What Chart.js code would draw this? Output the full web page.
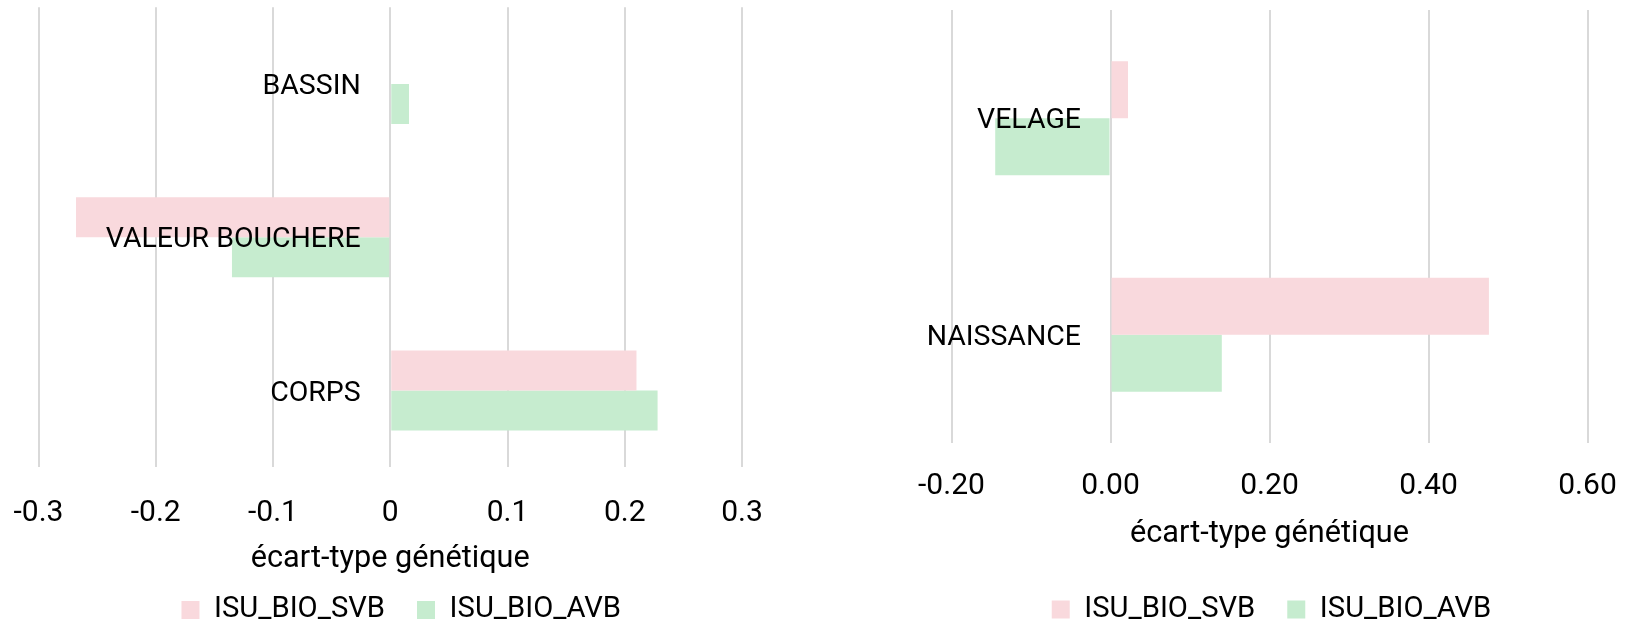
<!DOCTYPE html>
<html><head><meta charset="utf-8">
<script src="https://cdn.jsdelivr.net/npm/chart.js@4/dist/chart.umd.min.js"></script>
<style>
html,body{margin:0;padding:0;background:#fff;overflow:hidden;width:1627px;height:627px}
#wrap{position:relative;width:1627px;height:627px;overflow:hidden}
canvas{position:absolute;top:0}
</style></head><body>
<div id="wrap">
<canvas id="c1" width="813" height="640" style="left:0;width:813px;height:640px"></canvas>
<canvas id="c2" width="814" height="640" style="left:813px;width:814px;height:640px"></canvas>
</div>
<script>
// ---------- data ----------
const seriesNames = ['ISU_BIO_SVB', 'ISU_BIO_AVB'];
const axisTitle = 'écart-type génétique';

const leftCategories = ['BASSIN', 'VALEUR BOUCHERE', 'CORPS'];
const leftSVB = [0, -0.268, 0.21];
const leftAVB = [0.016, -0.135, 0.228];
const leftTickValues = [-0.3, -0.2, -0.1, 0, 0.1, 0.2, 0.3];
const leftTickLabels = ['-0.3', '-0.2', '-0.1', '0', '0.1', '0.2', '0.3'];

const rightCategories = ['VELAGE', 'NAISSANCE'];
const rightSVB = [0.022, 0.476];
const rightAVB = [-0.145, 0.14];
const rightTickValues = [-0.2, 0, 0.2, 0.4, 0.6];
const rightTickLabels = ['-0.20', '0.00', '0.20', '0.40', '0.60'];

// ---------- style ----------
const FAMILY = 'Roboto, Lato, sans-serif';
const PINK = 'rgb(249,217,221)';
const GREEN = 'rgb(198,236,207)';
const GRID = '#d9d9d9';
const TEXT = '#000';
const CAP_HALF = 0.3555;
const CANVAS_H = 640;

function fitSize(text, target) {
  const c = document.createElement('canvas').getContext('2d');
  c.font = '100px ' + FAMILY;
  return 100 * target / c.measureText(text).width;
}
const catSize = fitSize('VALEUR BOUCHERE', 255);
const tickSize = fitSize('-0.3', 50);
const titleSize = fitSize(axisTitle, 279);
const legendSize = fitSize('ISU_BIO_SVB', 171);
const TITLE_LH = 38, LEG_PAD = 32;

Chart.defaults.color = TEXT;
Chart.defaults.font.family = FAMILY;

const categoryLabels = {
  id: 'categoryLabels',
  afterDatasetsDraw(chart, args, opts) {
    const {ctx} = chart;
    const xs = chart.scales.x, ys = chart.scales.y;
    const x0 = xs.getPixelForValue(0) - opts.gap;
    ctx.save();
    ctx.font = catSize + 'px ' + FAMILY;
    ctx.fillStyle = TEXT;
    ctx.textAlign = 'right';
    ctx.textBaseline = 'alphabetic';
    chart.data.labels.forEach((lab, i) => {
      ctx.fillText(lab, x0, ys.getPixelForValue(i) + catSize * CAP_HALF);
    });
    ctx.restore();
  }
};

const legendShift = {
  id: 'legendShift',
  afterLayout(chart, args, opts) {
    if (chart.legend && opts.dx) {
      chart.legend.left += opts.dx;
      chart.legend.right += opts.dx;
    }
  }
};

function makeChart(id, cats, svb, avb, tickValues, tickLabels, geo) {
  const ih = legendSize;
  const legendBottom = geo.legendCenter + 10 + ih / 2;
  const legendTop = legendBottom - (ih + LEG_PAD + 10);
  const tickLH = 2 * (geo.tickCenter - geo.plotBottom);
  const pb = legendTop - geo.titleCenter - TITLE_LH / 2;
  const pt = (legendTop - geo.plotBottom) - tickLH - TITLE_LH - pb;
  return new Chart(document.getElementById(id), {
    type: 'bar',
    data: {
      labels: cats,
      datasets: [
        {label: seriesNames[0], data: svb, backgroundColor: PINK, borderWidth: 0},
        {label: seriesNames[1], data: avb, backgroundColor: GREEN, borderWidth: 0}
      ]
    },
    options: {
      indexAxis: 'y',
      responsive: false,
      animation: false,
      devicePixelRatio: 1,
      events: [],
      barPercentage: 1,
      categoryPercentage: geo.catPct,
      layout: {padding: {left: geo.padL, right: geo.padR, top: geo.plotTop, bottom: CANVAS_H - legendBottom}},
      scales: {
        y: {display: false},
        x: {
          type: 'linear',
          min: tickValues[0],
          max: tickValues[tickValues.length - 1],
          afterBuildTicks: s => { s.ticks = tickValues.map(v => ({value: v})); },
          grid: {color: GRID, lineWidth: 2, drawTicks: false},
          border: {display: false},
          ticks: {
            autoSkip: false, maxRotation: 0, padding: 0, color: TEXT,
            font: {size: tickSize, lineHeight: tickLH + 'px'},
            callback: (v, i) => tickLabels[i]
          },
          title: {
            display: true, text: axisTitle, color: TEXT,
            font: {size: titleSize, lineHeight: TITLE_LH + 'px'},
            padding: {top: pt, bottom: pb}
          }
        }
      },
      plugins: {
        legend: {
          position: 'bottom',
          labels: {boxWidth: 18, boxHeight: 18, padding: LEG_PAD, color: TEXT, font: {size: legendSize}}
        },
        tooltip: {enabled: false},
        categoryLabels: {gap: 29.5},
        legendShift: {dx: geo.legendDx}
      }
    },
    plugins: [categoryLabels, legendShift]
  });
}

makeChart('c1', leftCategories, leftSVB, leftAVB, leftTickValues, leftTickLabels,
  {padL: 38.5, padR: 813 - 742, plotTop: 7.3, plotBottom: 467, tickCenter: 513, titleCenter: 559, legendCenter: 610, catPct: 0.522, legendDx: 11});
makeChart('c2', rightCategories, rightSVB, rightAVB, rightTickValues, rightTickLabels,
  {padL: 951.5 - 813, padR: 1627 - 1587.5, plotTop: 10, plotBottom: 443, tickCenter: 486, titleCenter: 534, legendCenter: 609.5, catPct: 0.527, legendDx: 2});
</script>
</body></html>
